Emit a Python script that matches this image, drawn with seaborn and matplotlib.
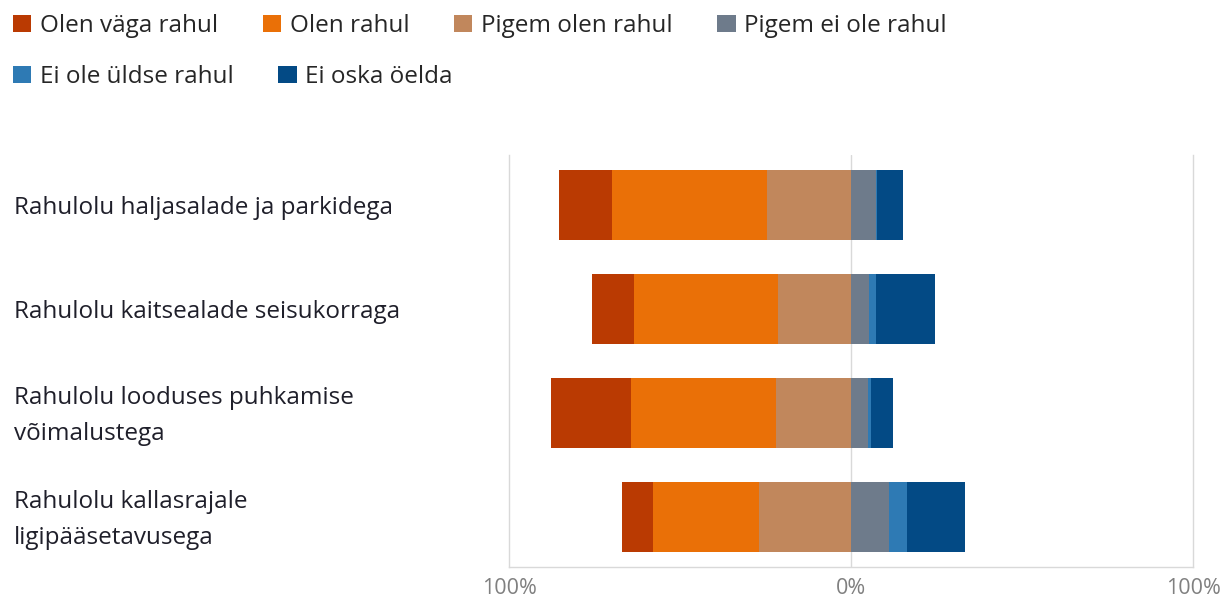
import pandas as pd
import matplotlib.pyplot as plt
import seaborn as sns
from matplotlib.patches import Patch
from matplotlib.transforms import blended_transform_factory, offset_copy

# ================= data =================
categories = [
    'Rahulolu haljasalade ja parkidega',
    'Rahulolu kaitsealade seisukorraga',
    'Rahulolu looduses puhkamise\nvõimalustega',
    'Rahulolu kallasrajale\nligipääsetavusega',
]
olen_vaga_rahul = [15.6, 12.2, 23.4, 9.1]
olen_rahul = [45.3, 42.2, 42.4, 30.9]
pigem_olen_rahul = [24.6, 21.2, 22.0, 27.0]
pigem_ei_ole_rahul = [7.4, 5.4, 4.9, 11.1]
ei_ole_uldse_rahul = [0.3, 2.0, 1.0, 5.3]
ei_oska_oelda = [7.5, 17.3, 6.3, 16.9]

series_names = ['Olen väga rahul', 'Olen rahul', 'Pigem olen rahul',
                'Pigem ei ole rahul', 'Ei ole üldse rahul', 'Ei oska öelda']
colors = ['#BA3A02', '#EA7007', '#C1875C', '#6E7B8B', '#2E7AB4', '#034A85']

x_ticks = [-100, 0, 100]
x_tick_labels = ['100%', '0%', '100%']

# ================= plot =================
sns.set_theme(style='white')
plt.rcParams['font.family'] = ['Open Sans', 'DejaVu Sans']

df = pd.DataFrame({
    'cat': categories,
    'v1': olen_vaga_rahul, 'v2': olen_rahul, 'v3': pigem_olen_rahul,
    'v4': pigem_ei_ole_rahul, 'v5': ei_ole_uldse_rahul, 'v6': ei_oska_oelda,
})
# negative side (satisfied) stacked leftwards from 0
df['n1'] = -(df['v1'] + df['v2'] + df['v3'])
df['n2'] = -(df['v2'] + df['v3'])
df['n3'] = -df['v3']
# positive side stacked rightwards from 0
df['p6'] = df['v4'] + df['v5'] + df['v6']
df['p5'] = df['v4'] + df['v5']
df['p4'] = df['v4']

fig = plt.figure(figsize=(12.27, 6), dpi=100)
ax = fig.add_axes([509 / 1227, 1 - 567 / 600, (1193 - 509) / 1227, (567 - 155) / 600])

layers = [('n1', 0), ('n2', 1), ('n3', 2), ('p6', 5), ('p5', 4), ('p4', 3)]
for col, ci in layers:
    sns.barplot(data=df, x=col, y='cat', orient='h', color=colors[ci],
                saturation=1, width=0.67, errorbar=None, linewidth=0, ax=ax)

ax.set_xlim(-100, 100)
ax.set_ylim(3.48, -0.48)
ax.set_xlabel('')
ax.set_ylabel('')
ax.set_xticks(x_ticks)
ax.set_xticklabels(x_tick_labels)
ax.tick_params(axis='x', length=0, pad=8, labelsize=15.5, labelcolor='#808080')
ax.set_yticks([])
ax.axvline(0, color='#d9d9d9', lw=1, zorder=0)
for side in ['left', 'right', 'bottom']:
    ax.spines[side].set_color('#d9d9d9')
    ax.spines[side].set_linewidth(1)
ax.spines['top'].set_visible(False)

# category labels, left-aligned at the figure edge
trans = blended_transform_factory(fig.transFigure, ax.transData)
trans = offset_copy(trans, fig=fig, x=0, y=-3, units='dots')
for i, lab in enumerate(categories):
    ax.text(14 / 1227, i, lab, transform=trans, ha='left', va='center',
            fontsize=17.5, color='#1f1f2a', linespacing=1.7)

# legend in two flowing rows
handles = [Patch(facecolor=c, edgecolor='none', label=n) for c, n in zip(colors, series_names)]
leg_kw = dict(frameon=False, loc='center left', fontsize=17.5, handlelength=0.75,
              handleheight=0.75, handletextpad=0.35, columnspacing=1.85,
              borderpad=0, borderaxespad=0, labelcolor='#262626')
leg1 = fig.legend(handles=handles[:4], ncol=4, bbox_to_anchor=(13 / 1227, 1 - 26 / 600), **leg_kw)
leg2 = fig.legend(handles=handles[4:], ncol=2, bbox_to_anchor=(13 / 1227, 1 - 77 / 600), **leg_kw)

plt.savefig('out.png', dpi=100)
plt.close()
